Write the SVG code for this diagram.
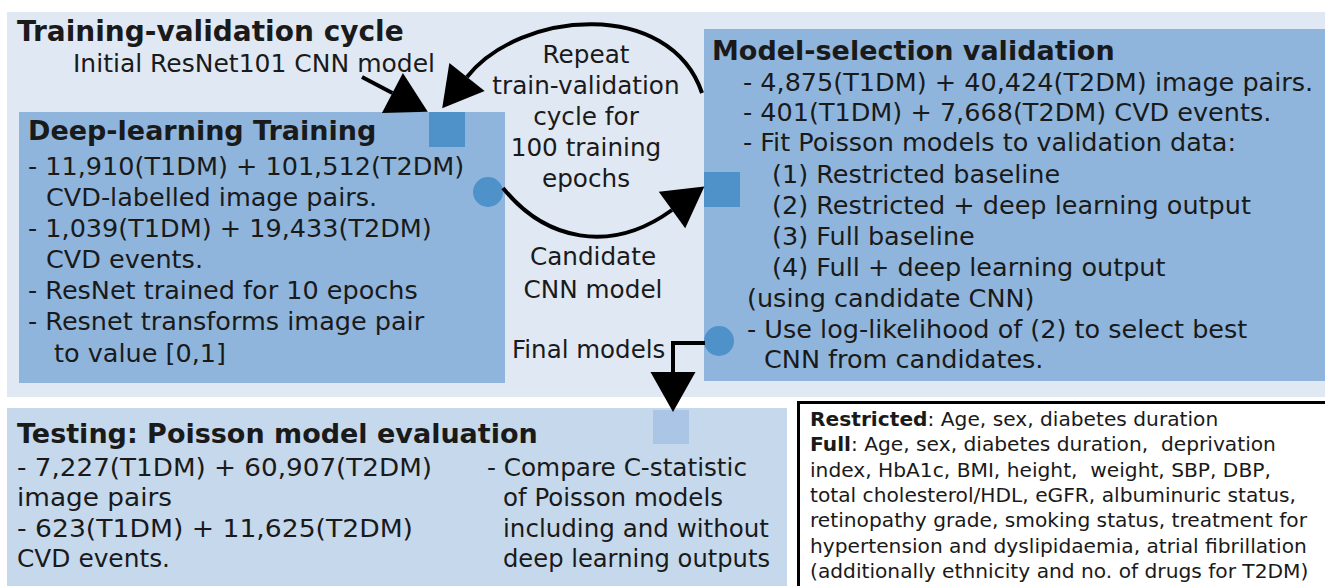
<svg xmlns="http://www.w3.org/2000/svg" width="1325" height="586" viewBox="0 0 1325 586">
<style>
text{font-family:"DejaVu Sans",Verdana,sans-serif;fill:#1a1a1a}
.h{font-weight:bold;font-size:27px}
.m{font-size:25.5px}
.lab{font-size:24.7px;text-anchor:middle}
.lg{font-size:20.2px}
.box{fill:#8fb5dc}
.sq{fill:#4f91c9}
.con{fill:none;stroke:#000;stroke-width:4;marker-end:url(#ah)}
</style>
<defs>
<marker id="ah" markerUnits="userSpaceOnUse" viewBox="-41 -24 43 48" markerWidth="43" markerHeight="48" refX="-40" refY="0" orient="auto" overflow="visible">
<path d="M0,0 L-40,-22.5 L-40,22.5 Z" fill="#000"/>
</marker>
</defs>
<rect x="0" y="0" width="1325" height="586" fill="#fff"/>
<rect x="7" y="12" width="1318" height="385" fill="#e0e8f4"/>

<g id="cycle-title">
<text class="h" x="17" y="41" style="font-size:28px">Training-validation cycle</text>
<text class="m" x="73" y="72" style="font-size:25px">Initial ResNet101 CNN model</text>
</g>

<g id="training">
<rect class="box" x="19" y="112" width="486" height="271"/>
<rect class="sq" x="429" y="112" width="36" height="35"/>
<circle class="sq" cx="488" cy="192" r="15"/>
<text class="h" x="28" y="140">Deep-learning Training</text>
<text class="m" x="28" y="175">- 11,910(T1DM) + 101,512(T2DM)</text>
<text class="m" x="46" y="206">CVD-labelled image pairs.</text>
<text class="m" x="28" y="237">- 1,039(T1DM) + 19,433(T2DM)</text>
<text class="m" x="46" y="268">CVD events.</text>
<text class="m" x="28" y="299">- ResNet trained for 10 epochs</text>
<text class="m" x="28" y="330">- Resnet transforms image pair</text>
<text class="m" x="54" y="362">to value [0,1]</text>
</g>

<g id="validation">
<rect class="box" x="704" y="29" width="621" height="352"/>
<rect class="sq" x="704" y="172" width="36" height="35"/>
<circle class="sq" cx="719" cy="341" r="15"/>
<text class="h" x="712" y="60">Model-selection validation</text>
<text class="m" x="743" y="91">- 4,875(T1DM) + 40,424(T2DM) image pairs.</text>
<text class="m" x="743" y="121">- 401(T1DM) + 7,668(T2DM) CVD events.</text>
<text class="m" x="743" y="151">- Fit Poisson models to validation data:</text>
<text class="m" x="772" y="183">(1) Restricted baseline</text>
<text class="m" x="772" y="214">(2) Restricted + deep learning output</text>
<text class="m" x="772" y="245">(3) Full baseline</text>
<text class="m" x="772" y="276">(4) Full + deep learning output</text>
<text class="m" x="747" y="307">(using candidate CNN)</text>
<text class="m" x="747" y="338">- Use log-likelihood of (2) to select best</text>
<text class="m" x="764" y="368">CNN from candidates.</text>
</g>

<g id="testing">
<rect x="7" y="408" width="780" height="178" fill="#c5d8ec"/>
<rect x="653" y="410" width="36" height="34" fill="#aac5e6"/>
<text class="h" x="17" y="443">Testing: Poisson model evaluation</text>
<text class="m" x="17" y="476" textLength="415" lengthAdjust="spacingAndGlyphs">- 7,227(T1DM) + 60,907(T2DM)</text>
<text class="m" x="17" y="506" textLength="155" lengthAdjust="spacingAndGlyphs">image pairs</text>
<text class="m" x="17" y="537" textLength="396" lengthAdjust="spacingAndGlyphs">- 623(T1DM) + 11,625(T2DM)</text>
<text class="m" x="17" y="567" textLength="153" lengthAdjust="spacingAndGlyphs">CVD events.</text>
<text class="m" x="487" y="476" textLength="260" lengthAdjust="spacingAndGlyphs">- Compare C-statistic</text>
<text class="m" x="503" y="506" textLength="220" lengthAdjust="spacingAndGlyphs">of Poisson models</text>
<text class="m" x="503" y="537" textLength="266" lengthAdjust="spacingAndGlyphs">including and without</text>
<text class="m" x="503" y="567" textLength="267" lengthAdjust="spacingAndGlyphs">deep learning outputs</text>
</g>

<g id="legend">
<rect x="798.5" y="402.5" width="530" height="190" fill="#fff" stroke="#000" stroke-width="3"/>
<text class="lg" x="810" y="426"><tspan font-weight="bold">Restricted</tspan>: Age, sex, diabetes duration</text>
<text class="lg" x="810" y="451" xml:space="preserve"><tspan font-weight="bold">Full</tspan>: Age, sex, diabetes duration,  deprivation</text>
<text class="lg" x="810" y="477" xml:space="preserve">index, HbA1c, BMI, height,  weight, SBP, DBP,</text>
<text class="lg" x="810" y="502">total cholesterol/HDL, eGFR, albuminuric status,</text>
<text class="lg" x="810" y="527">retinopathy grade, smoking status, treatment for</text>
<text class="lg" x="810" y="553">hypertension and dyslipidaemia, atrial fibrillation</text>
<text class="lg" x="810" y="578">(additionally ethnicity and no. of drugs for T2DM)</text>
</g>

<g id="connectors">
<path class="con" d="M362,77 L392.4,93"/>
<path class="con" d="M702,93 C670,-2 520,10 467,77"/>
<path class="con" d="M503,188 C545,240 610,255 672,210"/>
<path class="con" d="M705,343 H673 V372" stroke-linejoin="miter"/>
<text class="lab" x="586" y="63">Repeat</text>
<text class="lab" x="586" y="94">train-validation</text>
<text class="lab" x="586" y="125">cycle for</text>
<text class="lab" x="586" y="156">100 training</text>
<text class="lab" x="586" y="187">epochs</text>
<text class="lab" x="593" y="265">Candidate</text>
<text class="lab" x="593" y="298">CNN model</text>
<text class="m" x="512" y="358" style="font-size:24.5px">Final models</text>
</g>
</svg>
